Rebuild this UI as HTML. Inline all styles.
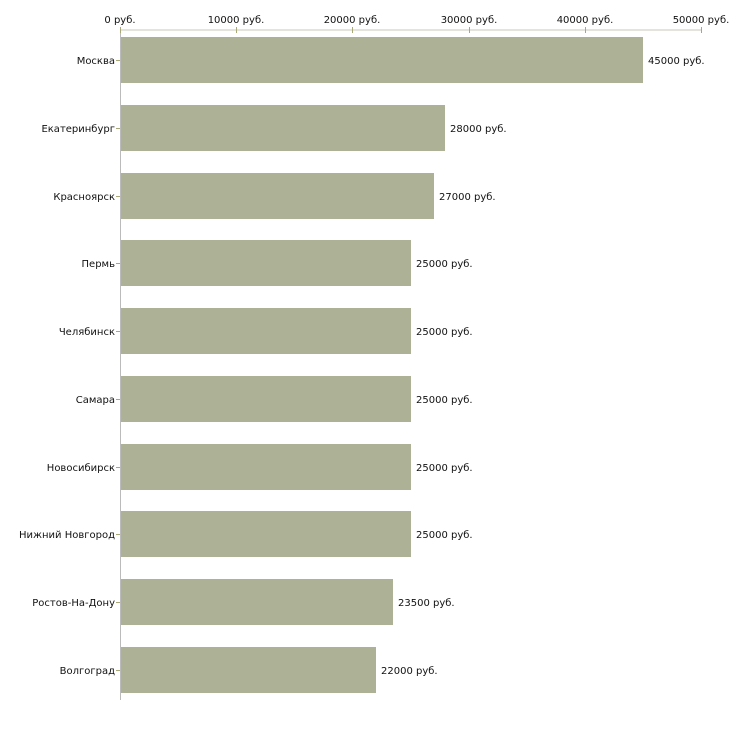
<!DOCTYPE html><html><head><style>body{margin:0;background:#fff}</style></head><body>
<svg width="730" height="730" xmlns="http://www.w3.org/2000/svg" font-family="DejaVu Sans, sans-serif" font-size="10" fill="#111">
<line x1="120" y1="30" x2="702" y2="30" stroke="#c8c8b8" stroke-width="1"/>
<line x1="120.5" y1="28" x2="120.5" y2="700" stroke="#bbbbbb" stroke-width="1"/>
<g stroke="#a8a878">
<line x1="120.5" y1="27" x2="120.5" y2="33"/><line x1="236.5" y1="27" x2="236.5" y2="33"/><line x1="352.5" y1="27" x2="352.5" y2="33"/><line x1="469.5" y1="27" x2="469.5" y2="33"/><line x1="585.5" y1="27" x2="585.5" y2="33"/><line x1="701.5" y1="27" x2="701.5" y2="33"/>
</g>
<g text-anchor="middle">
<text x="120" y="23">0 руб.</text><text x="236" y="23">10000 руб.</text><text x="352" y="23">20000 руб.</text><text x="469" y="23">30000 руб.</text><text x="585" y="23">40000 руб.</text><text x="701" y="23">50000 руб.</text>
</g>
<g fill="#adb296">
<rect x="121" y="37" width="522" height="46"/>
<rect x="121" y="105" width="324" height="46"/>
<rect x="121" y="173" width="313" height="46"/>
<rect x="121" y="240" width="290" height="46"/>
<rect x="121" y="308" width="290" height="46"/>
<rect x="121" y="376" width="290" height="46"/>
<rect x="121" y="444" width="290" height="46"/>
<rect x="121" y="511" width="290" height="46"/>
<rect x="121" y="579" width="272" height="46"/>
<rect x="121" y="647" width="255" height="46"/>
</g>
<g stroke="#a8a878">
<line x1="116" y1="60.5" x2="120" y2="60.5"/><line x1="116" y1="128.5" x2="120" y2="128.5"/><line x1="116" y1="196.5" x2="120" y2="196.5"/><line x1="116" y1="263.5" x2="120" y2="263.5"/><line x1="116" y1="331.5" x2="120" y2="331.5"/><line x1="116" y1="399.5" x2="120" y2="399.5"/><line x1="116" y1="467.5" x2="120" y2="467.5"/><line x1="116" y1="534.5" x2="120" y2="534.5"/><line x1="116" y1="602.5" x2="120" y2="602.5"/><line x1="116" y1="670.5" x2="120" y2="670.5"/>
</g>
<g text-anchor="end">
<text x="115" y="64">Москва</text><text x="115" y="132">Екатеринбург</text><text x="115" y="200">Красноярск</text><text x="115" y="267">Пермь</text><text x="115" y="335">Челябинск</text><text x="115" y="403">Самара</text><text x="115" y="471">Новосибирск</text><text x="115" y="538">Нижний Новгород</text><text x="115" y="606">Ростов-На-Дону</text><text x="115" y="674">Волгоград</text>
</g>
<g>
<text x="648" y="64">45000 руб.</text><text x="450" y="132">28000 руб.</text><text x="439" y="200">27000 руб.</text><text x="416" y="267">25000 руб.</text><text x="416" y="335">25000 руб.</text><text x="416" y="403">25000 руб.</text><text x="416" y="471">25000 руб.</text><text x="416" y="538">25000 руб.</text><text x="398" y="606">23500 руб.</text><text x="381" y="674">22000 руб.</text>
</g>
</svg>
</body></html>
